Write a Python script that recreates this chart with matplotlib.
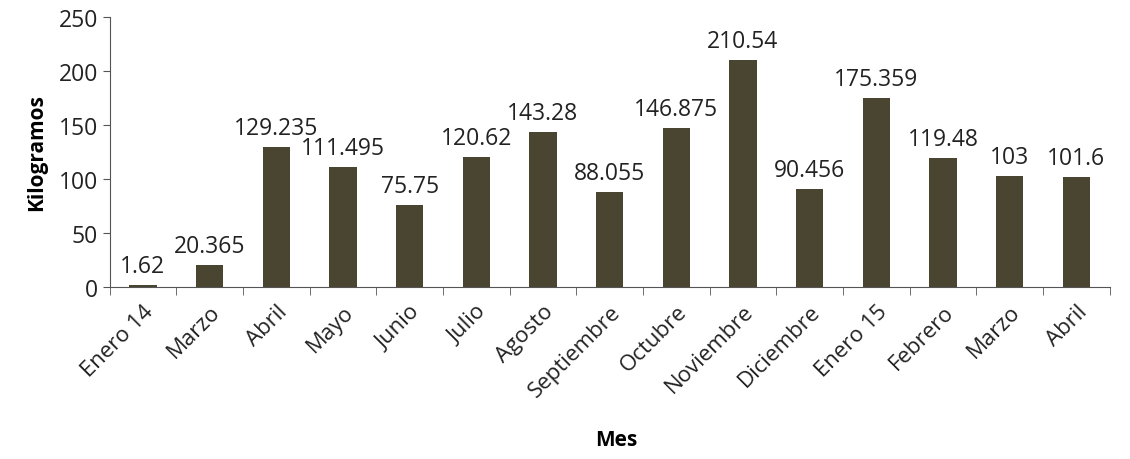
import numpy as np
import matplotlib.pyplot as plt

plt.rcParams['font.family'] = ['Open Sans', 'DejaVu Sans']

meses = ['Enero 14', 'Marzo', 'Abril', 'Mayo', 'Junio', 'Julio', 'Agosto',
         'Septiembre', 'Octubre', 'Noviembre', 'Diciembre', 'Enero 15',
         'Febrero', 'Marzo', 'Abril']
kilos = [1.62, 20.365, 129.235, 111.495, 75.75, 120.62, 143.28,
         88.055, 146.875, 210.54, 90.456, 175.359, 119.48, 103, 101.6]
etiquetas = ['1.62', '20.365', '129.235', '111.495', '75.75', '120.62', '143.28',
             '88.055', '146.875', '210.54', '90.456', '175.359', '119.48', '103', '101.6']

fig = plt.figure(figsize=(11.3, 4.6), dpi=100)
ax = fig.add_axes([0.097, 0.374, 0.885, 0.587])

x = np.arange(len(meses))
bars = ax.bar(x, kilos, width=0.41, color='#4a4530')

for b, t in zip(bars, etiquetas):
    ax.annotate(t, (b.get_x() + b.get_width() / 2, b.get_height()),
                xytext=(0, 5), textcoords='offset points',
                ha='center', va='bottom', fontsize=16.5, color='#222222')

ax.set_xlim(-0.5, len(meses) - 0.5)
ax.set_ylim(0, 250)
ax.set_yticks(range(0, 251, 50))
ax.tick_params(axis='y', labelsize=16.5, length=5, color='#555555', labelcolor='#222222')

ax.set_xticks(x)
ax.set_xticklabels(meses, rotation=45, ha='right', rotation_mode='anchor', fontsize=16,
                   color='#222222')
ax.tick_params(axis='x', which='major', length=0, pad=10)
ax.set_xticks(np.arange(-0.5, len(meses), 1), minor=True)
ax.tick_params(axis='x', which='minor', length=6, color='#555555')

for s in ['top', 'right']:
    ax.spines[s].set_visible(False)
for s in ['left', 'bottom']:
    ax.spines[s].set_color('#555555')

ax.set_ylabel('Kilogramos', fontsize=15, fontweight='bold', labelpad=8)
fig.text(0.545, 0.03, 'Mes', ha='center', fontsize=15, fontweight='bold')

fig.savefig('out.png')
